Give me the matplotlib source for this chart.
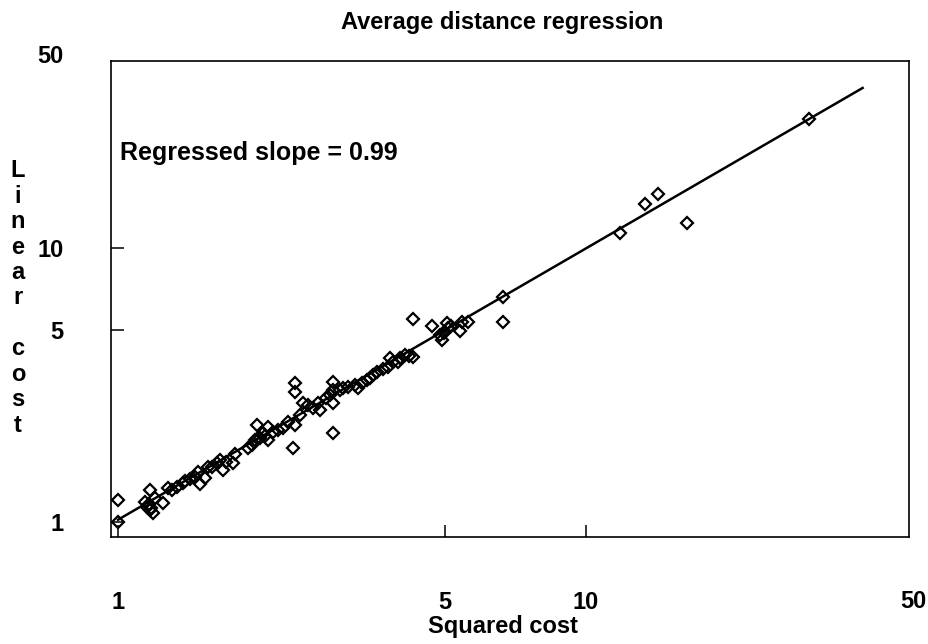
import matplotlib
matplotlib.use("Agg")
import matplotlib.pyplot as plt
from matplotlib.transforms import blended_transform_factory

# ---------------- data ----------------
squared_cost = [
    1.000, 1.000, 1.142, 1.153, 1.171, 1.188, 1.171, 1.200, 1.248, 1.279,
    1.304, 1.337, 1.377, 1.425, 1.461, 1.482, 1.497, 1.535, 1.557, 1.627,
    1.652, 1.676, 1.761, 1.778, 1.896, 1.962, 1.982, 2.041, 2.092, 2.092,
    2.061, 2.252, 2.308, 2.366, 2.389, 2.447, 2.389, 2.389, 2.484, 2.676,
    2.702, 2.838, 2.880, 2.880, 2.880, 2.880, 2.981, 3.025, 3.209, 3.257,
    3.404, 3.455, 3.506, 3.776, 3.813, 3.870, 4.005, 4.105, 4.270, 4.270,
    4.688, 4.876, 4.924, 5.047, 5.072, 5.380, 5.433, 5.596, 6.645, 6.645,
    11.82, 13.37, 14.25, 16.44, 29.96,
    1.165, 1.176, 1.390, 1.588, 1.701, 1.934, 2.011, 2.144, 2.197, 2.547,
    2.610, 2.783, 3.100, 3.322, 3.576, 3.683, 3.966, 4.187, 4.973, 5.147,
]
linear_cost = [
    1.000, 1.203, 1.183, 1.134, 1.106, 1.079, 1.309, 1.223, 1.173, 1.331,
    1.309, 1.342, 1.388, 1.435, 1.460, 1.522, 1.376, 1.447, 1.587, 1.642,
    1.684, 1.548, 1.642, 1.771, 1.862, 1.992, 2.259, 2.113, 2.222, 1.992,
    2.060, 2.203, 2.317, 1.862, 2.259, 2.458, 3.216, 2.982, 2.719, 2.719,
    2.564, 2.908, 3.244, 3.032, 2.719, 2.113, 3.032, 3.083, 3.162, 3.083,
    3.299, 3.355, 3.439, 3.679, 3.967, 3.837, 3.967, 4.069, 4.001, 5.507,
    5.192, 4.813, 4.615, 5.325, 5.105, 4.978, 5.370, 5.370, 6.624, 5.370,
    11.34, 14.47, 15.74, 12.34, 29.57,
    1.163, 1.125, 1.411, 1.587, 1.656, 1.910, 2.026, 2.131, 2.167, 2.673,
    2.607, 2.836, 3.109, 3.216, 3.527, 3.617, 3.837, 4.035, 4.895, 5.192,
]
slope = 0.99
intercept = 1.02
fit_range = [1.0, 39.0]
tick_values = [1, 5, 10, 50]
tick_labels = ["1", "5", "10", "50"]
title = "Average distance regression"
xlabel = "Squared cost"
ylabel = "Linear cost"
annotation = "Regressed slope = 0.99"

# ---------------- style ----------------
plt.rcParams["font.family"] = ["Liberation Sans", "DejaVu Sans"]
plt.rcParams["font.weight"] = "bold"
FS = 17

fig = plt.figure(figsize=(9.29, 6.44), dpi=100)
ax = fig.add_axes([0.1195, 0.1661, 0.8590, 0.7392])
ax.set_xscale("log")
ax.set_yscale("log")
XMAX, YMAX = 49.0, 48.1
ax.set_xlim(0.966, XMAX)
ax.set_ylim(0.882, YMAX)

ax.plot(squared_cost, linear_cost, linestyle="none", marker="D", ms=6.6,
        mfc="none", mec="black", mew=1.6, zorder=3)
fx = fit_range
fy = [intercept * v ** slope for v in fx]
ax.plot(fx, fy, color="black", lw=1.8, zorder=2)

in_ticks = [(v, l) for v, l in zip(tick_values, tick_labels) if v < XMAX]
out_ticks = [(v, l) for v, l in zip(tick_values, tick_labels) if v >= XMAX]
ax.set_xticks([v for v, _ in in_ticks])
ax.set_xticklabels([l for _, l in in_ticks])
ax.set_yticks([v for v, _ in in_ticks])
ax.set_yticklabels([l for _, l in in_ticks])
ax.minorticks_off()
ax.tick_params(axis="both", direction="in", length=9, width=1.1,
               labelsize=FS, top=False, right=False)
ax.tick_params(axis="x", pad=39)
ax.tick_params(axis="y", pad=34)
for lab in ax.get_xticklabels() + ax.get_yticklabels():
    lab.set_fontweight("bold")
for sp in ax.spines.values():
    sp.set_linewidth(1.2)

# labels for ticks lying just outside the frame
bt = blended_transform_factory(ax.transData, ax.transAxes)
bt2 = blended_transform_factory(ax.transAxes, ax.transData)
for v, l in out_ticks:
    ax.text(v, -0.136, l, transform=bt, ha="center", va="center",
            fontsize=FS, fontweight="bold", clip_on=False)
    ax.text(-0.060, v, l, transform=bt2, ha="right", va="center",
            fontsize=FS, fontweight="bold", clip_on=False)

ax.text(1.01, 22.2, annotation, fontsize=18, fontweight="bold",
        ha="left", va="center")

fig.text(0.541, 1 - 22 / 644, title, ha="center", va="center",
         fontsize=FS, fontweight="bold")
fig.text(0.541, 1 - 627 / 644, xlabel, ha="center", va="center",
         fontsize=FS, fontweight="bold")
fig.text(18 / 929, 1 - 298 / 644, "\n".join(ylabel), ha="center", va="center",
         fontsize=FS, fontweight="bold", linespacing=1.135)

fig.savefig("out.png", dpi=100)
